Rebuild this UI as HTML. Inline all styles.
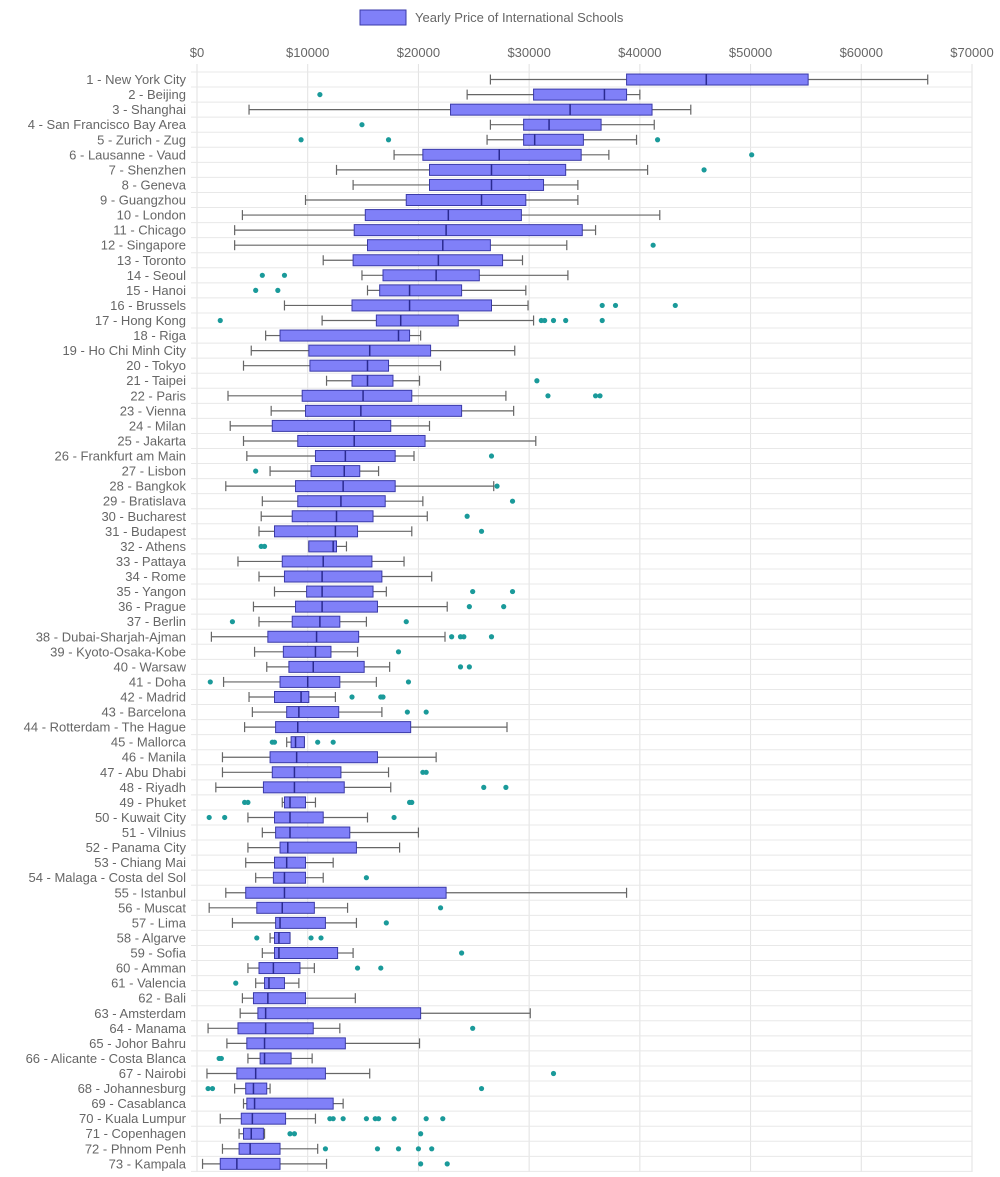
<!DOCTYPE html>
<html><head><meta charset="utf-8">
<style>
body{margin:0;background:#fff;font-family:"Liberation Sans",sans-serif;}
svg text{font-family:"Liberation Sans",sans-serif;}
</style></head>
<body>
<svg id="chart" width="1000" height="1172" xmlns="http://www.w3.org/2000/svg">
<g>
<rect x="360" y="10" width="46" height="15" fill="#8080f8" stroke="#3a3aa8" stroke-width="1"/>
<text x="415" y="22" font-size="13" fill="#666">Yearly Price of International Schools</text>
</g>
</svg>
<script>
const cities=["New York City","Beijing","Shanghai","San Francisco Bay Area","Zurich - Zug","Lausanne - Vaud","Shenzhen","Geneva","Guangzhou","London","Chicago","Singapore","Toronto","Seoul","Hanoi","Brussels","Hong Kong","Riga","Ho Chi Minh City","Tokyo","Taipei","Paris","Vienna","Milan","Jakarta","Frankfurt am Main","Lisbon","Bangkok","Bratislava","Bucharest","Budapest","Athens","Pattaya","Rome","Yangon","Prague","Berlin","Dubai-Sharjah-Ajman","Kyoto-Osaka-Kobe","Warsaw","Doha","Madrid","Barcelona","Rotterdam - The Hague","Mallorca","Manila","Abu Dhabi","Riyadh","Phuket","Kuwait City","Vilnius","Panama City","Chiang Mai","Malaga - Costa del Sol","Istanbul","Muscat","Lima","Algarve","Sofia","Amman","Valencia","Bali","Amsterdam","Manama","Johor Bahru","Alicante - Costa Blanca","Nairobi","Johannesburg","Casablanca","Kuala Lumpur","Copenhagen","Phnom Penh","Kampala"];
// values in thousands of USD
const mins=[26.5,24.4,4.7,26.5,26.2,17.8,12.6,14.1,9.8,4.1,3.4,3.4,11.4,14.9,15.4,7.9,11.3,6.2,4.9,4.2,11.7,2.8,6.7,3.0,4.2,4.5,6.6,2.6,5.9,5.8,5.6,10.1,3.7,5.6,7.0,5.1,5.6,1.3,5.2,6.3,2.4,4.7,5.0,4.3,8.1,2.3,2.3,1.7,7.7,4.6,5.9,4.6,4.4,5.3,2.6,1.1,3.2,6.6,5.9,4.6,5.3,4.1,3.9,1.0,2.7,4.6,0.9,3.4,4.2,2.1,3.8,2.3,0.5];
const q1s=[38.8,30.4,22.9,29.5,29.5,20.4,21.0,21.0,18.9,15.2,14.2,15.4,14.1,16.8,16.5,14.0,16.2,7.5,10.1,10.2,14.0,9.5,9.8,6.8,9.1,10.7,10.3,8.9,9.1,8.6,7.0,10.1,7.7,7.9,9.9,8.9,8.6,6.4,7.8,8.3,7.5,7.0,8.1,7.1,8.5,6.6,6.8,6.0,7.9,7.0,7.1,7.5,7.0,6.9,4.4,5.4,7.1,7.0,7.0,5.6,6.1,5.1,5.5,3.7,4.5,5.7,3.6,4.4,4.5,4.0,4.2,3.8,2.1];
const medians=[46.0,36.8,33.7,31.8,30.5,27.3,26.6,26.6,25.7,22.7,22.5,22.2,21.8,21.6,19.2,19.2,18.4,18.2,15.6,15.4,15.4,15.0,14.8,14.2,14.2,13.4,13.3,13.2,13.0,12.6,12.5,12.3,11.4,11.3,11.3,11.3,11.1,10.8,10.7,10.5,10.0,9.4,9.2,9.1,8.9,9.0,8.8,8.8,8.4,8.4,8.4,8.2,8.1,7.9,7.9,7.7,7.5,7.4,7.4,6.9,6.5,6.4,6.2,6.2,6.1,6.1,5.3,5.1,5.2,5.0,4.9,4.8,3.6];
const q3s=[55.2,38.8,41.1,36.5,34.9,34.7,33.3,31.3,29.7,29.3,34.8,26.5,27.6,25.5,23.9,26.6,23.6,19.2,21.1,17.3,17.7,19.4,23.9,17.5,20.6,17.9,14.7,17.9,17.0,15.9,14.5,12.6,15.8,16.7,15.9,16.3,12.9,14.6,12.1,15.1,12.9,10.1,12.8,19.3,9.7,16.3,13.0,13.3,9.8,11.4,13.8,14.4,9.8,9.8,22.5,10.6,11.6,8.4,12.7,9.3,7.9,9.8,20.2,10.5,13.4,8.5,11.6,6.3,12.3,8.0,6.0,7.5,7.5];
const maxs=[66.0,40.0,44.6,41.3,39.7,37.2,40.7,34.4,34.4,41.8,36.0,33.4,29.4,33.5,29.7,29.9,30.4,20.2,28.7,22.0,20.1,27.9,28.6,21.0,30.6,19.6,16.4,26.8,20.4,20.8,19.4,13.5,18.7,21.2,17.1,22.6,15.3,22.4,14.5,17.4,16.2,12.5,16.7,28.0,9.7,21.6,17.3,17.5,10.7,15.4,20.0,18.3,12.3,11.4,38.8,13.6,14.4,8.4,14.1,10.6,9.2,14.3,30.1,12.9,20.1,10.4,15.6,6.6,13.2,10.7,6.1,10.9,11.7];
const outliers=[[],[11.1],[],[14.9],[9.4,17.3,41.6],[50.1],[45.8],[],[],[],[],[41.2],[],[5.9,7.9],[5.3,7.3],[36.6,37.8,43.2],[2.1,31.1,31.4,32.2,33.3,36.6],[],[],[],[30.7],[31.7,36.0,36.4],[],[],[],[26.6],[5.3],[27.1],[28.5],[24.4],[25.7],[5.8,6.1],[],[],[24.9,28.5],[24.6,27.7],[3.2,18.9],[23.0,23.8,24.1,26.6],[18.2],[23.8,24.6],[1.2,19.1],[14.0,16.6,16.8],[19.0,20.7],[],[6.8,7.0,10.9,12.3],[],[20.4,20.7],[25.9,27.9],[4.3,4.6,19.2,19.4],[1.1,2.5,17.8],[],[],[],[15.3],[],[22.0],[17.1],[5.4,10.3,11.2],[23.9],[14.5,16.6],[3.5],[],[],[24.9],[],[2.0,2.2],[32.2],[1.0,1.4,25.7],[],[12.0,12.3,13.2,15.3,16.1,16.4,17.8,20.7,22.2],[8.4,8.8,20.2],[11.6,16.3,18.2,20.0,21.2],[20.2,22.6]];
const ticks=[0,10,20,30,40,50,60,70];

const NS="http://www.w3.org/2000/svg";
const svg=document.getElementById('chart');
const X0=197,X1=972,Y0=72,RH=15.06;
const xs=v=>X0+(v/70)*(X1-X0);
const ys=i=>Y0+RH*i+RH/2;
function mk(tag,attrs,parent){const e=document.createElementNS(NS,tag);for(const k in attrs)e.setAttribute(k,attrs[k]);(parent||svg).appendChild(e);return e;}
const grid=mk('g',{});


ticks.forEach(t=>{
  const l=mk('line',{x1:xs(t),x2:xs(t),y1:Y0-8,y2:1172,stroke:'#e2e2e2','stroke-width':1},grid);
  
  
  const tx=mk('text',{x:xs(t),y:57,'font-size':13,fill:'#666','text-anchor':'middle'});
  
  
  tx.textContent='$'+(t*1000);
});
for(let i=0;i<=cities.length;i++){
  const l=mk('line',{x1:X0-6,x2:X1,y1:Y0+RH*i,y2:Y0+RH*i,stroke:'#e8e8e8','stroke-width':1},grid);
  
  
}
cities.forEach((c,i)=>{
  const y=ys(i);
  const lb=mk('text',{x:186,y:y+4.5,'font-size':13,fill:'#666','text-anchor':'end'});
  
  
  lb.textContent=(i+1)+' - '+c;
  const g=mk('g',{});
  
  
  mk('line',{x1:xs(mins[i]),x2:xs(q1s[i]),y1:y,y2:y,stroke:'#666','stroke-width':1.2},g);
  mk('line',{x1:xs(q3s[i]),x2:xs(maxs[i]),y1:y,y2:y,stroke:'#666','stroke-width':1.2},g);
  mk('line',{x1:xs(mins[i]),x2:xs(mins[i]),y1:y-5,y2:y+5,stroke:'#666','stroke-width':1.2},g);
  mk('line',{x1:xs(maxs[i]),x2:xs(maxs[i]),y1:y-5,y2:y+5,stroke:'#666','stroke-width':1.2},g);
  mk('rect',{x:xs(q1s[i]),y:y-5.5,width:Math.max(1,xs(q3s[i])-xs(q1s[i])),height:11,fill:'#8080f8',stroke:'#3a3aa8','stroke-width':1},g);
  mk('line',{x1:xs(medians[i]),x2:xs(medians[i]),y1:y-5.5,y2:y+5.5,stroke:'#2a2a90','stroke-width':1.5},g);
  outliers[i].forEach(o=>{
    const p=mk('circle',{cx:xs(o),cy:y,r:2.6,fill:'#1a9a9a'},g);
    
    
  });
});
</script>
</body></html>
